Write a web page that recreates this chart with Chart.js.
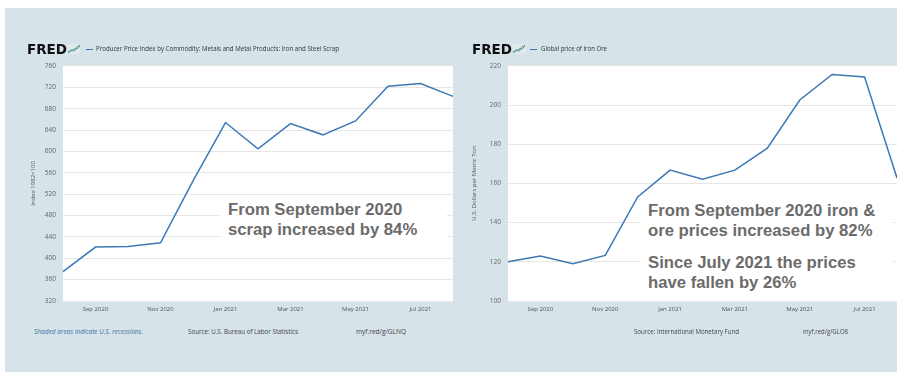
<!DOCTYPE html>
<html>
<head>
<meta charset="utf-8">
<title>Iron and steel scrap vs iron ore</title>
<script src="https://cdn.jsdelivr.net/npm/chart.js@4.4.0/dist/chart.umd.min.js"></script>
<style>
  body { margin: 0; width: 897px; height: 374px; overflow: hidden; background: #fff; position: relative; font-family: "Open Sans", sans-serif; }
  #panel { position: absolute; left: 5px; top: 8px; width: 892px; height: 364px; background: #d6e3e9; }
  .abs { position: absolute; white-space: nowrap; transform-origin: left center; }
  .fred { font-family: "DejaVu Sans", sans-serif; font-weight: bold; font-size: 14px; line-height: 16px; color: #111; }
  .legend { font-size: 7px; line-height: 10px; color: #333; }
  .dash { position: absolute; height: 1.5px; width: 7px; background: #3d78b5; }
  .foot { font-size: 7px; line-height: 10px; color: #444; }
  .recess { font-style: italic; color: #3a6ea5; }
  .note { position: absolute; background: #fff; box-sizing: border-box; font-family: "Liberation Sans", Arial, sans-serif; font-weight: bold; font-size: 16.7px; line-height: 20px; color: #6b6b6b; white-space: nowrap; }
  canvas { position: absolute; }
</style>
</head>
<body>
<div id="panel"></div>

<!-- canvases are 5px wider than the plot: the x axis keeps its tick padding on the right -->
<canvas id="scrapChart" width="458" height="265" style="left:0px; top:55px;"></canvas>
<canvas id="oreChart" width="449" height="265" style="left:453px; top:55px;"></canvas>

<!-- headers -->
<div class="abs fred" data-w="40" style="left:27px; top:41px;">FRED</div>
<svg class="abs" style="left:68px; top:44px;" width="12" height="10" viewBox="0 0 12 10">
  <rect x="0" y="0" width="12" height="10" fill="#dfe9ee"/>
  <polyline points="0,9 3,6 6,7 9,3 12,1" fill="none" stroke="#7fb069" stroke-width="1.2"/>
  <polyline points="0,8 3,7 6,5 9,5 12,2" fill="none" stroke="#5b8fc7" stroke-width="1"/>
</svg>
<div class="dash" style="left:86px; top:48.5px;"></div>
<div class="abs legend" data-w="243" style="left:96px; top:44px;">Producer Price Index by Commodity: Metals and Metal Products: Iron and Steel Scrap</div>

<div class="abs fred" data-w="40" style="left:472px; top:41px;">FRED</div>
<svg class="abs" style="left:513px; top:44px;" width="12" height="10" viewBox="0 0 12 10">
  <rect x="0" y="0" width="12" height="10" fill="#dfe9ee"/>
  <polyline points="0,9 3,6 6,7 9,3 12,1" fill="none" stroke="#7fb069" stroke-width="1.2"/>
  <polyline points="0,8 3,7 6,5 9,5 12,2" fill="none" stroke="#5b8fc7" stroke-width="1"/>
</svg>
<div class="dash" style="left:530px; top:48.5px;"></div>
<div class="abs legend" data-w="66" style="left:541px; top:44px;">Global price of Iron Ore</div>

<!-- footers -->
<div class="abs foot recess" data-w="109" style="left:34px; top:327px;">Shaded areas indicate U.S. recessions.</div>
<div class="abs foot" data-w="110" style="left:188px; top:327px;">Source: U.S. Bureau of Labor Statistics</div>
<div class="abs foot" data-w="50" style="left:356px; top:327px;">myf.red/g/GLNQ</div>
<div class="abs foot" data-w="105" style="left:634px; top:327px;">Source: International Monetary Fund</div>
<div class="abs foot" data-w="45" style="left:803px; top:327px;">myf.red/g/GLO8</div>

<!-- annotations -->
<div class="note" style="left:220px; top:196px; width:227px; height:54px; padding:4px 0 0 8px;">
  From September 2020<br>scrap increased by 84%
</div>
<div class="note" style="left:641px; top:195px; width:252px; height:98px; padding:6px 0 0 7px;">
  From September 2020 iron &amp;<br>ore prices increased by 82%
  <div style="margin-top:12px;">Since July 2021 the prices<br>have fallen by 26%</div>
</div>

<script>
// Monthly observations, Aug 2020 - Aug 2021
const months = ["Aug 2020", "Sep 2020", "Oct 2020", "Nov 2020", "Dec 2020", "Jan 2021", "Feb 2021",
  "Mar 2021", "Apr 2021", "May 2021", "Jun 2021", "Jul 2021", "Aug 2021"];
const shownMonths = ["Sep 2020", "Nov 2020", "Jan 2021", "Mar 2021", "May 2021", "Jul 2021"];

// PPI: Iron and Steel Scrap (Index 1982=100)
const scrapIndex = [375, 421, 422, 429, 545, 654, 605, 652, 631, 657, 722, 727, 703];
const scrapRange = [320, 760, 40];

// Global price of Iron Ore (USD per metric ton)
const orePrice = [120.0, 123.0, 119.0, 123.3, 153.1, 166.8, 162.2, 166.8, 178.0, 202.6, 215.6, 214.3, 162.8];
const oreRange = [100, 220, 20];

const lineColor = "#3d78b5";
const gridColor = "#e6e6e6";

// white plotting area on the blue panel
const plotBg = {
  id: "plotBg",
  beforeDraw(chart) {
    const { ctx, chartArea: a } = chart;
    ctx.save();
    ctx.fillStyle = "#fff";
    ctx.fillRect(a.left, a.top, a.width, a.height);
    ctx.restore();
  }
};

function makeChart(id, values, range, yTitle, axisWidth, titleGap) {
  return new Chart(document.getElementById(id), {
    type: "line",
    data: {
      labels: months,
      datasets: [{
        data: values,
        borderColor: lineColor,
        borderWidth: 1.5,
        pointRadius: 0,
        tension: 0,
        fill: false
      }]
    },
    options: {
      responsive: false,
      animation: false,
      layout: { padding: { top: 7, left: 0, right: 0, bottom: 0 } },
      plugins: { legend: { display: false }, tooltip: { enabled: false } },
      scales: {
        x: {
          type: "category",
          offset: false,
          grid: { display: false, drawTicks: false },
          border: { display: false },
          ticks: {
            autoSkip: false,
            maxRotation: 0,
            padding: 5,
            color: "#555",
            font: { family: "Open Sans", size: 6 },
            callback: (v, i) => shownMonths.includes(months[i]) ? months[i] : ""
          },
          afterFit: s => { s.height = 19; }
        },
        y: {
          min: range[0],
          max: range[1],
          grid: { color: gridColor, lineWidth: 1, drawTicks: false },
          border: { display: false },
          ticks: {
            stepSize: range[2],
            padding: 7,
            color: "#666",
            font: { family: "Open Sans", size: 6.5 }
          },
          title: {
            display: true,
            text: yTitle,
            color: "#555",
            font: { family: "Open Sans", size: 6 },
            padding: { top: titleGap, bottom: 0 }
          },
          afterFit: s => { s.width = axisWidth; }
        }
      }
    },
    plugins: [plotBg]
  });
}

makeChart("scrapChart", scrapIndex, scrapRange, "Index 1982=100", 63, 30);
makeChart("oreChart", orePrice, oreRange, "U.S. Dollars per Metric Ton", 55, 18);

// squeeze the small FRED texts to their widths in the picture
document.querySelectorAll("[data-w]").forEach(el => {
  const w = el.getBoundingClientRect().width;
  el.style.transform = `scaleX(${el.dataset.w / w})`;
});
</script>
</body>
</html>
